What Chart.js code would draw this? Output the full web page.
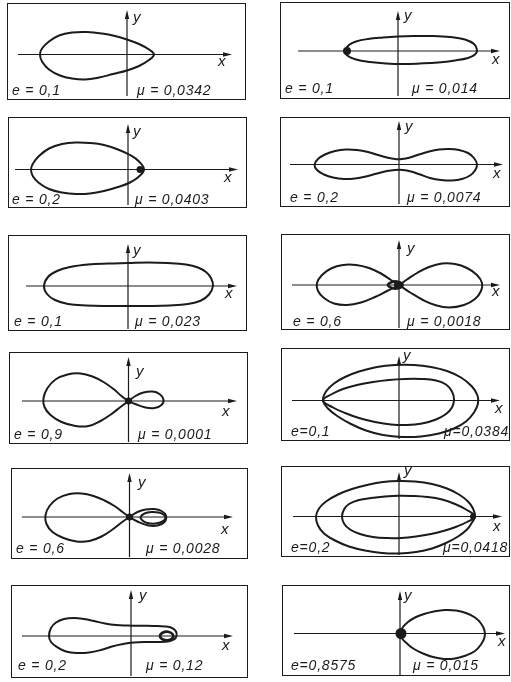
<!DOCTYPE html>
<html lang="ru">
<head>
<meta charset="UTF-8">
<title>Орбиты</title>
<script src="https://cdn.jsdelivr.net/npm/chart.js@4.4.1/dist/chart.umd.min.js"></script>
<style>
    html, body { margin: 0; padding: 0; background: #fff; }
    body { width: 511px; height: 682px; position: relative; overflow: hidden; font-family: "Liberation Sans", Arial, sans-serif; }
    .panel { position: absolute; }
    .panel canvas { position: absolute; left: 0; top: 0; }
    .frame { position: absolute; border: 1.5px solid #1b1b1b; box-sizing: border-box; pointer-events: none; }
    .lbl { position: absolute; font-style: italic; font-size: 14px; line-height: 14px; letter-spacing: 0.8px; color: #1b1b1b; white-space: pre; }
    .ax { font-size: 15px; letter-spacing: 0; }
</style>
</head>
<body>
<script>
// parameters printed under each orbit
const eLabels = ["e = 0,1", "e = 0,1", "e = 0,2", "e = 0,2", "e = 0,1", "e = 0,6",
                 "e = 0,9", "e=0,1", "e = 0,6", "e=0,2", "e = 0,2", "e=0,8575"];
const muLabels = ["μ = 0,0342", "μ = 0,014", "μ = 0,0403", "μ = 0,0074", "μ = 0,023", "μ = 0,0018",
                  "μ = 0,0001", "μ=0,0384", "μ = 0,0028", "μ=0,0418", "μ = 0,12", "μ = 0,015"];

// orbit points [x, y], origin at the axes crossing
const orbit1 = [[27,0],[22,5],[12,10.5],[0,15],[-12,18.5],[-25,21],[-40,22.5],[-55,22],[-68,19],[-78,13],[-85,6],[-87,0],
                [-85,-7],[-78,-15],[-67,-21],[-55,-24],[-42,-25],[-28,-23],[-14,-19.5],[0,-16],[12,-11.5],[22,-5.5]];
const orbit2 = [[79,1],[76,7],[67,11.5],[52,14],[35,15],[15,15],[0,14.5],[-15,13.5],[-30,12],[-42,9.5],[-49,6],[-53,0],
                [-50,-5],[-42,-8.5],[-28,-11],[-12,-12.5],[5,-13],[22,-12.5],[40,-11.5],[57,-9.5],[70,-7],[77,-3.5]];
const orbit3 = [[16,0],[11,8],[2,14.5],[-10,20],[-24,24.5],[-38,26.5],[-52,27],[-66,25.5],[-79,21],[-89,13.5],[-95,6],[-97,0],
                [-95,-7],[-89,-13.5],[-79,-19.5],[-66,-23],[-52,-24.5],[-38,-24],[-24,-21.5],[-10,-17.5],[2,-13],[11,-7]];
const orbit4 = [[78,0],[75,6.5],[69,11.5],[60,14.5],[50,15.5],[40,15],[30,13],[20,10],[11,7],[3,5.5],[-4,5.5],[-12,7],[-21,9.5],
                [-31,12.5],[-42,14.5],[-53,15],[-64,13.5],[-74,10],[-81,5.5],[-84.5,0],[-82,-5.5],[-75,-10],[-66,-13],[-55,-14.5],
                [-44,-14],[-33,-12],[-22,-9],[-12,-6.5],[-4,-5.5],[4,-5.5],[12,-7],[21,-10],[31,-13.5],[42,-15.5],[53,-16],[63,-14.5],[71,-11],[76,-6]];
const orbit5 = [[85,0],[83,8],[78,14],[70,18.5],[58,21.5],[40,23],[20,23.5],[0,23],[-20,22.5],[-40,21.5],[-58,19],[-71,15],[-80,9],[-84,0],
                [-81,-8],[-73,-14],[-60,-18],[-42,-19.5],[-20,-20],[0,-20],[20,-20],[42,-19.5],[60,-18],[73,-14.5],[81,-8.5]];
const orbit6 = [[0,0],[8,5.5],[18,12],[30,18],[43,21.5],[56,21],[68,17],[78,10],[83,2],[82,-6],[76,-14],[65,-20],[50,-22.5],[36,-20],[24,-15],[12,-8],
                [0,0],[-8,5],[-18,11.5],[-30,17],[-43,20],[-56,20],[-68,16.5],[-77,10],[-82,2],[-81,-6],[-75,-13],[-65,-18.5],[-52,-20],[-38,-17.5],[-24,-12],[-12,-6]];
const orbit7 = [[0,0],[-7,5],[-15,12],[-25,19],[-36,24.5],[-48,27.5],[-61,26.5],[-73,21.5],[-81,13],[-85,3],[-84,-6],[-78,-14],[-67,-21],[-53,-25],
                [-40,-25],[-28,-20],[-17,-13],[-8,-6],[0,0],[7,5],[15,8.5],[24,9.5],[31,7],[35,1.5],[33,-4],[26,-7],[17,-6.5],[8,-3.5]];
const orbit8 = [[-76,0],[-73,9],[-65,17],[-54,23.5],[-40,29],[-22,33.5],[-4,35.5],[15,35.5],[32,33.5],[48,29.5],[62,23],[73,14],[78.5,5],[79,-3],
                [75,-12],[67,-21],[55,-28],[40,-33],[22,-36],[3,-36.5],[-16,-34.5],[-33,-30],[-48,-23.5],[-61,-16],[-71,-8]];
const orbit9 = [[0,0],[-7,5],[-15,11],[-25,16.5],[-36,21],[-48,23.5],[-60,23],[-72,18.5],[-80,11],[-84,2],[-83,-7],[-77,-15],[-66,-21],[-53,-24.5],
                [-40,-24],[-28,-19.5],[-17,-12.5],[-8,-5.5],[0,0],[8,5],[16,7.5],[25,8],[32,6],[36.5,1.5],[35,-5],[28,-8.5],[19,-8.5],[9,-5]];
const orbit10 = [[76,0],[74,8],[69,15],[60,22],[48,28],[33,32.5],[16,35],[0,35.5],[-16,34.5],[-32,31.5],[-47,27.5],[-61,22],[-73,15],[-80,8],[-83,0],
                 [-81,-9],[-75,-17],[-64,-24],[-50,-30],[-34,-34],[-17,-36.5],[0,-37],[17,-35.5],[33,-32],[47,-26.5],[59,-20],[68,-13],[73,-6]];
const orbit11 = [[-82,0],[-80,8],[-75,13.5],[-67,17],[-57,18],[-47,17],[-37,15],[-26,12.5],[-15,11],[-3,10.5],[10,10.2],[23,10],[34,9.5],[41,8],[45,4.5],
                 [45.5,0],[43,-3.5],[37,-5.5],[27,-6],[15,-6],[3,-6.5],[-8,-8],[-19,-10.5],[-30,-14],[-42,-16.5],[-54,-17],[-65,-15.5],[-74,-11],[-80,-6]];
const orbit12 = [[0,0],[3,6.5],[8,11.5],[15,16],[24,19.5],[34,22],[45,23.5],[56,23],[66,20.5],[75,16],[81,10],[84.5,3],[84.5,-4],[81,-11],
                 [75,-17.5],[66,-22],[55,-25],[44,-25.5],[33,-23.5],[23,-20],[14,-15.5],[7,-10],[2,-5]];

// second (inner) turns
const inner6 = [[-11,0],[-7,3],[-2,3.5],[3,1.5],[3,-1.5],[-2,-3.5],[-7,-3]];
const inner8 = [[-76,0],[-67,6.5],[-56,11.5],[-42,15.5],[-26,18.5],[-10,20.5],[6,21.5],[22,21.5],[37,20],[47,16],[53,9],[55,1],[53,-7],[47,-13.5],
                [37,-19],[23,-23],[8,-24.5],[-8,-24],[-24,-21.5],[-40,-17.5],[-54,-12.5],[-66,-7]];
const inner9 = [[11,0],[15,3.5],[22,5],[29,4.5],[34,2.5],[36,-1],[33,-4.5],[26,-6.5],[18,-6],[13,-3.5]];
const inner10 = [[76,0],[67,7],[56,12.5],[43,17],[28,19.5],[13,20.5],[0,20.7],[-14,20],[-28,18.5],[-40,16.5],[-50,12.5],[-55,7],[-57,0],
                 [-55,-7],[-49,-13],[-39,-17.5],[-26,-20.5],[-12,-21.6],[2,-21.5],[17,-20],[32,-17.5],[46,-14],[58,-10],[68,-5.5]];
const inner11 = [[29,0],[32,3.5],[37,4.3],[41.5,2],[42,-1.5],[38,-4],[32,-3.5]];

// attracting masses marked with a dot
const masses = [[], [[-51,0]], [[12,0]], [], [], [[-1,0]], [[0,0]], [], [[0,0]], [[74,0]], [], [[1,0]]];

const orbits = [[orbit1], [orbit2], [orbit3], [orbit4], [orbit5], [orbit6, inner6],
                [orbit7], [orbit8, inner8], [orbit9, inner9], [orbit10, inner10], [orbit11, inner11], [orbit12]];

// page layout: frame left, top, right, bottom, origin x, origin y
const frames = [
    [7, 3, 246, 100, 127, 54.5], [280, 2, 510, 99, 398, 51],
    [8, 117, 247, 208, 128, 169.5], [280, 117, 510, 207, 399, 164.5],
    [8, 235, 247, 331, 128, 286], [281, 234, 510, 330, 399, 285],
    [9, 352, 248, 444, 128.5, 401], [281, 348, 510, 441, 399, 400.5],
    [11, 468, 248, 559, 129.5, 517], [281, 466, 510, 557, 399, 516.5],
    [11, 585, 248, 678, 131, 636], [282, 585, 510, 676, 400, 633.5]
];
// axis extents: x-axis left, arrow tip, y-axis arrow tip, bottom end
const axisSpans = [
    [18, 232, 10, 96], [298, 500, 11, 96], [15, 238, 124, 205], [290, 503, 121, 204],
    [26, 237, 244, 329], [292, 500, 240, 328], [22, 237, 357, 442], [292, 500, 356, 439],
    [22, 233, 473, 557], [293, 502, 472, 555], [22, 233, 590, 676], [294, 505, 591, 675]
];
// text anchors: e left, mu left, baseline, y-label left, baseline, x-label left, baseline
const labelSpots = [
    [12, 137, 95, 133, 22, 218, 66], [285, 412, 93, 404, 20, 492, 64],
    [12, 135, 204, 133, 136, 224, 182], [290, 407, 202, 405, 131, 493, 178],
    [14, 135, 326, 133, 255, 225, 298], [293, 407, 326, 407, 253, 492, 296],
    [14, 138, 439, 136, 376, 222, 416], [291, 444, 436, 403, 360, 495, 413],
    [16, 146, 553, 138, 487, 221, 534], [291, 443, 552, 404, 475, 493, 531],
    [18, 146, 670, 139, 600, 222, 650], [291, 413, 670, 404, 600, 498, 646]
];
const dotRadius = [0, 4, 3.5, 0, 0, 4, 3.5, 0, 3.5, 3, 0, 5.5];
const innerWidth2 = [2, 2, 2, 2, 2, 2.6, 2, 2, 2, 2, 2.6, 2];

const ink = "#1b1b1b";

// makes a line dataset close on itself smoothly
const closeLoops = {
    id: "closeLoops",
    beforeDatasetUpdate(chart, args) {
        const ds = chart.data.datasets[args.index];
        if (ds.closed && args.meta.dataset) {
            args.meta.dataset._loop = true;
            args.meta.dataset._fullLoop = true;
        }
    }
};

// coordinate axes with arrow heads
const axesPlugin = {
    id: "axes",
    beforeDatasetsDraw(chart, args, opts) {
        const ctx = chart.ctx;
        const sx = chart.scales.x, sy = chart.scales.y;
        const x0 = sx.getPixelForValue(0), y0 = sy.getPixelForValue(0);
        const xa = sx.getPixelForValue(opts.xFrom), xb = sx.getPixelForValue(opts.xTo);
        const ya = sy.getPixelForValue(opts.yTop), yb = sy.getPixelForValue(opts.yBottom);
        ctx.save();
        ctx.strokeStyle = ink;
        ctx.fillStyle = ink;
        ctx.lineWidth = 1.2;
        ctx.beginPath();
        ctx.moveTo(xa, y0); ctx.lineTo(xb - 5, y0);
        ctx.moveTo(x0, yb); ctx.lineTo(x0, ya + 5);
        ctx.stroke();
        ctx.beginPath();
        ctx.moveTo(xb, y0); ctx.lineTo(xb - 9, y0 - 2.2); ctx.lineTo(xb - 9, y0 + 2.2); ctx.closePath();
        ctx.fill();
        ctx.beginPath();
        ctx.moveTo(x0, ya); ctx.lineTo(x0 - 2.2, ya + 9); ctx.lineTo(x0 + 2.2, ya + 9); ctx.closePath();
        ctx.fill();
        ctx.restore();
    }
};

function addLabel(text, left, baseline, cls) {
    var s = document.createElement("span");
    s.className = "lbl" + (cls ? " " + cls : "");
    s.textContent = text;
    s.style.left = left + "px";
    s.style.top = (baseline - 12) + "px";
    document.body.appendChild(s);
}

function toXY(pts) {
    return pts.map(function(p) { return {x: p[0], y: p[1]}; });
}

frames.forEach(function(f, i) {
    var l = f[0], t = f[1], r = f[2], b = f[3], ox = f[4], oy = f[5];
    var w = r - l, h = b - t;

    var box = document.createElement("div");
    box.className = "panel";
    box.style.left = l + "px"; box.style.top = t + "px";
    box.style.width = w + "px"; box.style.height = h + "px";
    var canvas = document.createElement("canvas");
    canvas.width = w; canvas.height = h;
    box.appendChild(canvas);
    document.body.appendChild(box);

    var frame = document.createElement("div");
    frame.className = "frame";
    frame.style.left = l + "px"; frame.style.top = t + "px";
    frame.style.width = w + "px"; frame.style.height = h + "px";
    document.body.appendChild(frame);

    var datasets = orbits[i].map(function(pts, k) {
        return {
            data: toXY(pts),
            closed: true,
            borderColor: ink,
            borderWidth: k === 0 ? 2 : innerWidth2[i],
            pointRadius: 0,
            tension: 0.4,
            fill: false
        };
    });
    if (masses[i].length) {
        datasets.push({
            data: toXY(masses[i]),
            showLine: false,
            pointRadius: dotRadius[i],
            pointBackgroundColor: ink,
            pointBorderWidth: 0
        });
    }

    var a = axisSpans[i];
    new Chart(canvas, {
        type: "line",
        data: { datasets: datasets },
        options: {
            responsive: false,
            animation: false,
            events: [],
            layout: { autoPadding: false, padding: 0 },
            plugins: {
                legend: { display: false },
                tooltip: { enabled: false },
                axes: { xFrom: a[0] - ox, xTo: a[1] - ox, yTop: oy - a[2], yBottom: oy - a[3] }
            },
            scales: {
                x: { type: "linear", display: false, min: l - ox, max: r - ox },
                y: { type: "linear", display: false, min: oy - b, max: oy - t }
            }
        },
        plugins: [closeLoops, axesPlugin]
    });

    var s = labelSpots[i];
    addLabel(eLabels[i], s[0], s[2]);
    addLabel(muLabels[i], s[1], s[2]);
    addLabel("y", s[3], s[4], "ax");
    addLabel("x", s[5], s[6], "ax");
});
</script>
</body>
</html>
